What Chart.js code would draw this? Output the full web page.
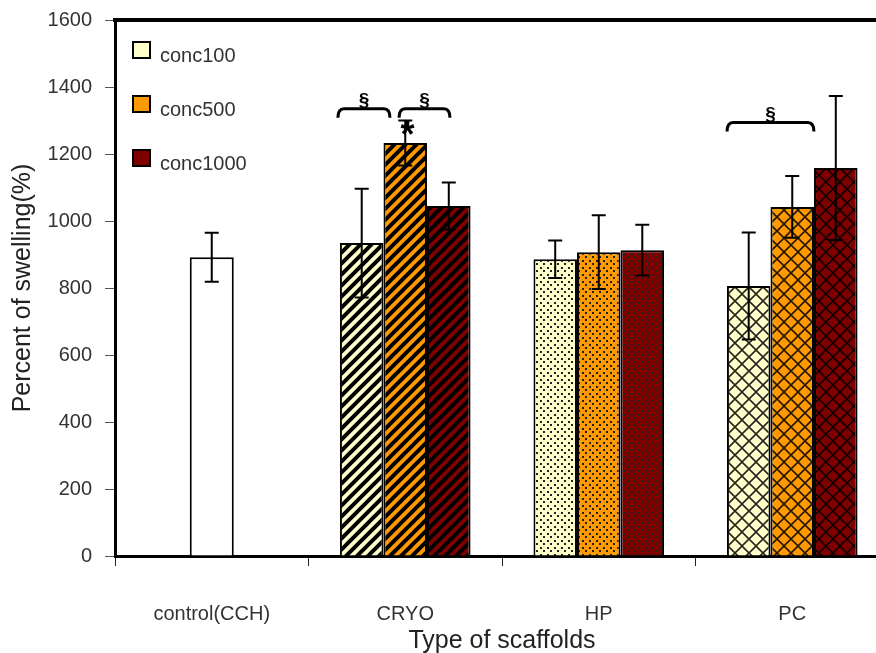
<!DOCTYPE html>
<html>
<head>
<meta charset="utf-8">
<script src="https://cdn.jsdelivr.net/npm/chart.js@4"></script>
<style>
  html, body { margin: 0; padding: 0; background: #fff; overflow: hidden; }
  #wrap { width: 900px; height: 660px; }
</style>
</head>
<body>
<div id="wrap"><canvas id="myChart" width="900" height="660"></canvas></div>
<script>
// values
var categories = ['control(CCH)', 'CRYO', 'HP', 'PC'];
var seriesNames = ['conc100', 'conc500', 'conc1000'];

var control = [892, null, null, null];
var controlErr = [73, null, null, null];

var conc100 = [null, 934, 886, 806];
var conc100Err = [null, 162, 56, 160];

var conc500 = [null, 1233, 907, 1042];
var conc500Err = [null, 67, 110, 92];

var conc1000 = [null, 1045, 913, 1158];
var conc1000Err = [null, 70, 76, 215];

var yTicks = [0, 200, 400, 600, 800, 1000, 1200, 1400, 1600];

// significance marks: category, from / to (fraction of category width from its centre), value
var brackets = [
  { cat: 1, from: -0.348, to: -0.079, value: 1335, label: '§' },
  { cat: 1, from: -0.032, to: 0.231, value: 1335, label: '§' },
  { cat: 3, from: -0.337, to: 0.112, value: 1294, label: '§' }
];
var stars = [{ cat: 1, at: 0.012, value: 1285, label: '*' }];

var seriesColors = ['#FFFFCC', '#FF9900', '#800000'];

function makePattern(kind, color) {
  var c = document.createElement('canvas');
  var p = c.getContext('2d');
  var s;
  if (kind === 'stripes') {
    s = 11;
    c.width = s; c.height = s;
    p.fillStyle = color; p.fillRect(0, 0, s, s);
    p.strokeStyle = '#000'; p.lineWidth = 4;
    p.beginPath();
    p.moveTo(0, s); p.lineTo(s, 0);
    p.moveTo(-3, 3); p.lineTo(3, -3);
    p.moveTo(s - 3, s + 3); p.lineTo(s + 3, s - 3);
    p.stroke();
  } else if (kind === 'dots') {
    s = 7;
    c.width = s; c.height = s;
    p.fillStyle = color; p.fillRect(0, 0, s, s);
    p.fillStyle = '#222';
    p.fillRect(1, 1, 2, 2);
    p.fillRect(4, 4, 2, 2);
  } else {
    s = 14;
    c.width = s; c.height = s;
    p.fillStyle = color; p.fillRect(0, 0, s, s);
    p.strokeStyle = 'rgba(0,0,0,0.85)'; p.lineWidth = 1.6;
    p.beginPath();
    p.moveTo(0, 0); p.lineTo(s, s);
    p.moveTo(0, s); p.lineTo(s, 0);
    p.stroke();
  }
  return document.getElementById('myChart').getContext('2d').createPattern(c, 'repeat');
}

function fills(color) {
  return [color, makePattern('stripes', color), makePattern('dots', color), makePattern('cross', color)];
}

var errors = [controlErr, conc100Err, conc500Err, conc1000Err];

// error bars, brackets, top frame line and legend
var extras = {
  id: 'extras',
  afterDatasetsDraw: function (chart) {
    var c = chart.ctx, y = chart.scales.y, x = chart.scales.x, area = chart.chartArea;
    c.save();
    c.strokeStyle = '#000';
    c.lineWidth = 2;
    chart.data.datasets.forEach(function (ds, di) {
      var meta = chart.getDatasetMeta(di);
      ds.data.forEach(function (v, i) {
        if (v === null || errors[di][i] === null) return;
        var bx = meta.data[i].x;
        var top = y.getPixelForValue(v + errors[di][i]);
        var bot = y.getPixelForValue(v - errors[di][i]);
        c.beginPath();
        c.moveTo(bx, top); c.lineTo(bx, bot);
        c.moveTo(bx - 7, top); c.lineTo(bx + 7, top);
        c.moveTo(bx - 7, bot); c.lineTo(bx + 7, bot);
        c.stroke();
      });
    });

    var catW = (area.right - area.left) / categories.length;
    c.lineWidth = 3;
    c.fillStyle = '#000';
    c.textAlign = 'center';
    brackets.forEach(function (b) {
      var cx = x.getPixelForValue(b.cat);
      var x0 = cx + b.from * catW, x1 = cx + b.to * catW;
      var by = y.getPixelForValue(b.value);
      c.beginPath();
      c.moveTo(x0, by + 9);
      c.quadraticCurveTo(x0, by, x0 + 6, by);
      c.lineTo(x1 - 6, by);
      c.quadraticCurveTo(x1, by, x1, by + 9);
      c.stroke();
      c.font = 'bold 19px "Liberation Sans", Arial, sans-serif';
      c.textBaseline = 'alphabetic';
      c.fillText(b.label, (x0 + x1) / 2, by - 3);
    });
    stars.forEach(function (s) {
      var cx = x.getPixelForValue(s.cat) + s.at * catW;
      c.font = 'bold 36px "Liberation Sans", Arial, sans-serif';
      c.textBaseline = 'alphabetic';
      c.fillText(s.label, cx, y.getPixelForValue(s.value) + 21);
    });

    // top frame line
    c.lineWidth = 4;
    c.beginPath();
    c.moveTo(area.left - 2, area.top);
    c.lineTo(chart.width, area.top);
    c.stroke();

    // legend
    c.textAlign = 'left';
    c.font = '20px "Liberation Sans", Arial, sans-serif';
    seriesNames.forEach(function (name, i) {
      var lx = area.left + 18, ly = area.top + 22 + i * 54;
      c.fillStyle = seriesColors[i];
      c.fillRect(lx, ly, 17, 16);
      c.lineWidth = 2;
      c.strokeStyle = '#000';
      c.strokeRect(lx, ly, 17, 16);
      c.fillStyle = '#333';
      c.fillText(name, lx + 27, ly + 20);
    });
    c.restore();
  }
};

var ctx = document.getElementById('myChart').getContext('2d');
new Chart(ctx, {
  type: 'bar',
  data: {
    labels: categories,
    datasets: [
      { label: 'control', data: control, backgroundColor: '#FFFFFF' },
      { label: seriesNames[0], data: conc100, backgroundColor: fills(seriesColors[0]) },
      { label: seriesNames[1], data: conc500, backgroundColor: fills(seriesColors[1]) },
      { label: seriesNames[2], data: conc1000, backgroundColor: fills(seriesColors[2]) }
    ]
  },
  options: {
    responsive: false,
    animation: false,
    events: [],
    layout: { padding: { top: 20, right: 11, left: 0, bottom: 0 } },
    datasets: {
      bar: {
        skipNull: true,
        categoryPercentage: 0.675,
        barPercentage: 1,
        maxBarThickness: 44,
        borderColor: '#000',
        borderWidth: 2
      }
    },
    plugins: {
      legend: { display: false },
      tooltip: { enabled: false }
    },
    scales: {
      x: {
        grid: { drawOnChartArea: false, tickLength: 10, color: '#222', lineWidth: 1 },
        border: { color: '#000', width: 3 },
        ticks: { padding: 36, color: '#333', font: { family: 'Liberation Sans', size: 20 } },
        title: {
          display: true, text: 'Type of scaffolds', color: '#222',
          font: { family: 'Liberation Sans', size: 25 }, padding: { top: 0, bottom: 4 }
        },
        afterFit: function (s) { s.height = 104; }
      },
      y: {
        min: yTicks[0],
        max: yTicks[yTicks.length - 1],
        afterBuildTicks: function (s) { s.ticks = yTicks.map(function (v) { return { value: v }; }); },
        grid: { drawOnChartArea: false, tickLength: 10, color: '#555', lineWidth: 1 },
        border: { color: '#000', width: 3 },
        ticks: {
          padding: 13, color: '#333', font: { family: 'Liberation Sans', size: 20 },
          callback: function (v) { return String(v); }
        },
        title: {
          display: true, text: 'Percent of swelling(%)', color: '#222',
          font: { family: 'Liberation Sans', size: 25 }, padding: { top: 8, bottom: 0 }
        },
        afterFit: function (s) { s.width = 115; s.paddingTop = 0; s.paddingBottom = 0; }
      }
    }
  },
  plugins: [extras]
});
</script>
</body>
</html>
